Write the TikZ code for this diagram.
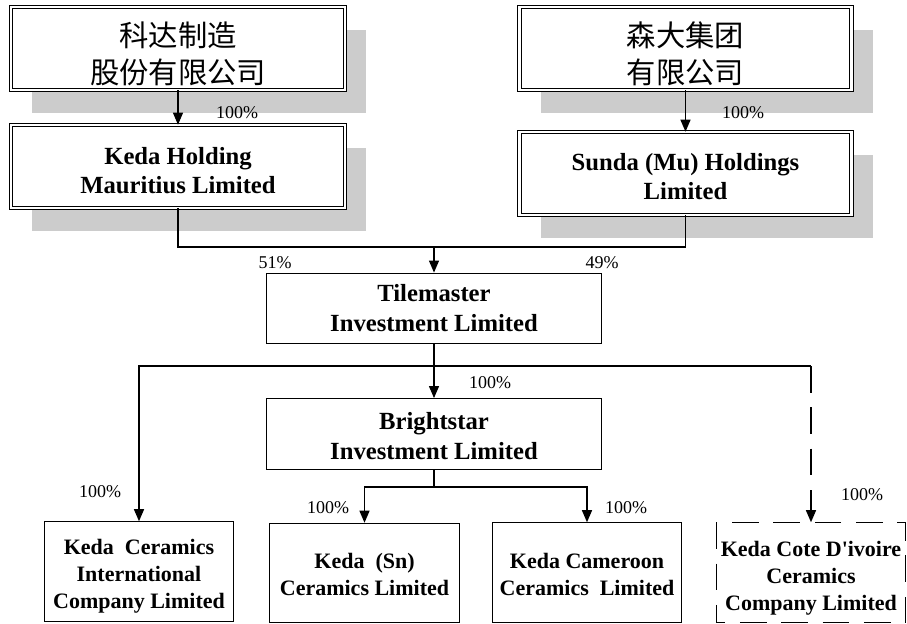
\documentclass[tikz,border=0pt]{standalone}
\usepackage{fontspec}
\setmainfont{Liberation Serif}
\newfontfamily\cjk{Noto Sans CJK SC}
\usepackage{tikz}
\usetikzlibrary{arrows.meta,positioning,shadows,calc}
\newcommand{\lift}[1]{\rule{0pt}{#1}}

\begin{document}
\begin{tikzpicture}[
    x=0.75pt, y=-0.75pt,
    line width=0.9pt,
    box/.style={rectangle, draw, fill=white, inner sep=0pt, align=center},
    parent/.style={box, double, double distance=1.7pt, line width=0.7pt,
        minimum width=251pt, minimum height=62pt,
        drop shadow={shadow xshift=15.75pt, shadow yshift=-17.25pt, fill=black!20, opacity=1}},
    cn/.style={font=\cjk\fontsize{22pt}{27.75pt}\selectfont},
    en/.style={font=\bfseries\fontsize{18.5pt}{21.5pt}\selectfont},
    mid/.style={box, minimum width=251pt, minimum height=53pt, font=\bfseries\fontsize{18.5pt}{22.5pt}\selectfont},
    sub/.style={box, minimum width=142pt, minimum height=74.5pt, font=\bfseries\fontsize{16.5pt}{20.25pt}\selectfont},
    pct/.style={font=\fontsize{13.5pt}{16pt}\selectfont, inner sep=0pt},
    arrow/.style={-{Triangle[width=7.5pt,length=9pt]}},
    plan/.style={dash pattern=on 20pt off 11pt}
]
    \useasboundingbox (0,0) rectangle (907,624);

    \node[parent, cn] (keda) at (178,48.5) {\lift{26.5pt}科达制造\\股份有限公司};
    \node[parent, en] (kedahold) at (178,166.5) {\lift{19pt}Keda Holding\\Mauritius Limited};
    \node[parent, cn, minimum width=249pt] (senda) at (685.5,48.5) {\lift{26.5pt}森大集团\\有限公司};
    \node[parent, en, minimum width=249pt] (sunda) at (685.5,173.5) {\lift{17.5pt}Sunda (Mu) Holdings\\Limited};
    \node[mid] (tile) at (434,308.5) {Tilemaster\\Investment Limited};
    \node[mid] (bright) at (434,434) {\lift{16pt}Brightstar\\Investment Limited};
    \node[sub] (kci) at (139,571.5) {\lift{18pt}Keda\ \ Ceramics\\International\\Company Limited};
    \node[sub] (ksn) at (364.5,573) {\lift{14pt}Keda\ \ (Sn)\\Ceramics Limited};
    \node[sub] (kcam) at (587,572.5) {\lift{14pt}Keda Cameroon\\Ceramics\ \ Limited};
    \node[sub, draw=none, minimum width=141pt] (kcd) at (811,572.5) {\lift{20pt}Keda Cote D\textquotesingle ivoire\\Ceramics\\Company Limited};
    \draw[plan] (kcd.north west) rectangle (kcd.south east);

    \coordinate (top) at (434,247);
    \coordinate (mid) at (434,366);
    \coordinate (low) at (434,487);
    \coordinate (right) at (mid -| kcd.north);

    \draw[arrow] (keda) -- (kedahold);
    \draw[arrow] (senda) -- (sunda);
    \draw (kedahold.south) |- (top) -| (sunda.south);
    \draw[arrow] (top) -- (tile.north);
    \draw[arrow] (tile) -- (bright);
    \draw[arrow] (mid) -| (kci.north);
    \draw (mid) -- (right);
    \draw[arrow, plan] (right) -- (kcd.north);
    \draw (bright.south) -- (low);
    \draw[arrow] (low) -| (ksn.north);
    \draw[arrow] (low) -| (kcam.north);

    \node[pct] (p1) at (237,113) {100\%};
    \node[pct] (p2) at (743,113) {100\%};
    \node[pct] (p3) at (275,263) {51\%};
    \node[pct] (p4) at (602,263) {49\%};
    \node[pct] (p5) at (490,383) {100\%};
    \node[pct] (p6) at (100,492) {100\%};
    \node[pct] (p7) at (328,508) {100\%};
    \node[pct] (p8) at (626,508) {100\%};
    \node[pct] (p9) at (862,495) {100\%};
\end{tikzpicture}
\end{document}
